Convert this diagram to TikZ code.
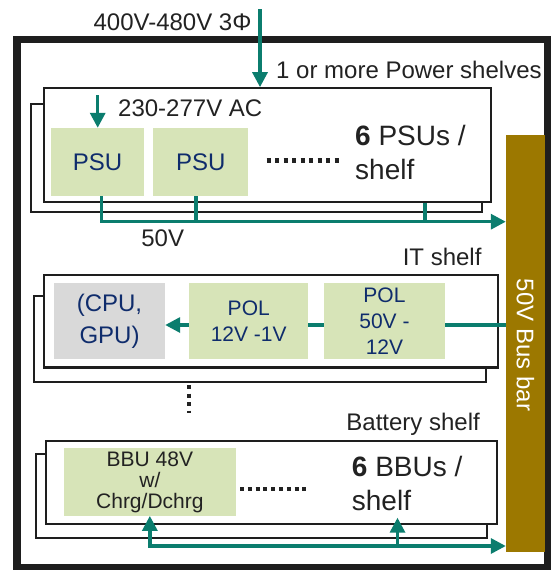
\documentclass[tikz,border=0pt]{standalone}
\usepackage{fontspec}
\setmainfont{Liberation Sans}
\usepackage{xcolor}
\usepackage{tikz}
\usetikzlibrary{positioning,arrows.meta,fit}
\definecolor{cteal}{HTML}{0B7D6E}
\definecolor{cgreen}{HTML}{D7E4B8}
\definecolor{cnavy}{HTML}{0F2C6C}
\definecolor{cgrey}{HTML}{D9D9D9}
\definecolor{cbus}{HTML}{9C7800}
\definecolor{cframe}{HTML}{1E1E1E}
\definecolor{ctext}{HTML}{222222}
\tikzset{
  shelfbox/.style={draw=cframe, fill=white, line width=2.3pt, inner sep=0pt},
  unitbox/.style={fill=cgreen, text=cnavy, align=center, inner sep=0pt,
    font=\fontsize{24}{31.6}\selectfont},
  polbox/.style={unitbox, font=\fontsize{21}{25.8}\selectfont},
  chipbox/.style={unitbox, fill=cgrey},
  bbubox/.style={unitbox, text=ctext, font=\fontsize{21}{21}\selectfont},
  lbl/.style={text=ctext, inner sep=0pt, font=\fontsize{24}{29}\selectfont},
  biglbl/.style={lbl, align=left, font=\fontsize{28}{34}\selectfont},
  busbar/.style={fill=cbus, inner sep=0pt, minimum width=39pt, minimum height=417pt},
  feedline/.style={line width=3.3pt, color=cteal},
  feedarrow/.style={feedline, -{Triangle[length=15pt, width=15pt]}},
  dualarrow/.style={feedline, {Triangle[length=15pt, width=15pt]}-{Triangle[length=15pt, width=15pt]}},
  dotrow/.style={line width=4.5pt, dash pattern=on 4pt off 4.5pt, color=ctext}
}

\begin{document}
\begin{tikzpicture}[x=1pt, y=-1pt]
  \useasboundingbox (0,0) rectangle (551,570);

  % rack frame and bus bar
  \draw[line width=7.2pt, draw=cframe] (17,39.5) rectangle (548,567.5);
  \node[busbar] (bus) at (525.5,343.5) {};
  \node[lbl, text=white, rotate=-90] (buslbl) at (525.5,345) {50V Bus bar};

  % power shelf
  \node[shelfbox, fit={(30.7,104) (481.7,212)}] (pwrback) {};
  \node[shelfbox, fit={(44.3,88.3) (491,202)}] (pwr) {};
  \node[unitbox, minimum width=93pt, minimum height=68pt] (psu1) at (97.5,162) {PSU};
  \node[unitbox, minimum width=94.7pt, minimum height=68pt, right=9pt of psu1] (psu2) {PSU};
  \draw[dotrow] (266.7,160.7) -- (343,160.7);
  \node[biglbl, anchor=west] (psucount) at (355,152.9) {\textbf{6} PSUs /\\shelf};
  \node[lbl, anchor=base east] (acsrc) at (251.7,30) {400V-480V 3Φ};
  \node[lbl, anchor=base west] (pwrlbl) at (276,78.3) {1 or more Power shelves};
  \node[lbl, anchor=base west] (aclbl) at (118,116) {230-277V AC};
  \node[lbl, anchor=base] (dclbl) at (162.7,246.7) {50V};

  % IT shelf
  \node[shelfbox, fit={(34,295.7) (486,381.7)}] (itback) {};
  \node[shelfbox, fit={(44.3,275) (498.3,367.5)}] (it) {};
  \node[chipbox, minimum width=111pt, minimum height=75.4pt] (cpu) at (109.5,321) {(CPU,\\GPU)};
  \node[polbox, minimum width=118.7pt, minimum height=75.4pt, right=24pt of cpu] (pol1) {POL\\12V -1V};
  \node[polbox, minimum width=120.7pt, minimum height=75.4pt, right=15.6pt of pol1] (pol2) {POL\\50V -\\12V};
  \node[lbl, anchor=base east] (itlbl) at (481.7,265) {IT shelf};
  \draw[dotrow] (189,385) -- (189,413);

  % battery shelf
  \node[shelfbox, fit={(35.7,454) (487.3,538)}] (batback) {};
  \node[shelfbox, fit={(45.7,441) (497.3,524.3)}] (bat) {};
  \node[bbubox, minimum width=171.7pt, minimum height=67.4pt] (bbu) at (149.85,482) {BBU 48V\\w/\\Chrg/Dchrg};
  \draw[dotrow, dash pattern=on 4pt off 3.8pt] (240,489) -- (306.7,489);
  \node[biglbl, anchor=west] (bbucount) at (351.7,483.6) {\textbf{6} BBUs /\\shelf};
  \node[lbl, anchor=base east] (batlbl) at (480,430.5) {Battery shelf};

  % AC feeds
  \coordinate (acin) at (260,9.3);
  \coordinate (acpsu) at (97.7,95);
  \draw[feedarrow] (acin) -- (acin |- pwr.north);
  \draw[feedarrow] (acpsu) -- (acpsu |- psu1.north);

  % 50V from the PSUs
  \coordinate (dc1) at (101.7,221.7);
  \coordinate (dc2) at (196,221.7);
  \coordinate (dc3) at (425,221.7);
  \draw[feedarrow] (dc1 |- psu1.south) -- (dc1) -- (dc1 -| bus.west);
  \draw[feedline] (dc2 |- psu2.south) -- (dc2);
  \draw[feedline] (dc3 |- pwr.south) -- (dc3);

  % bus bar to the IT shelf
  \coordinate (itrow) at (0,325);
  \draw[feedline] (itrow -| bus.west) -- (itrow -| pol2.east);
  \draw[feedline] (itrow -| pol2.west) -- (itrow -| pol1.east);
  \draw[feedarrow] (itrow -| pol1.west) -- (itrow -| cpu.east);

  % battery links
  \coordinate (batrow) at (0,546);
  \coordinate (bbutap) at (397.5,546);
  \coordinate (bbutip) at (397.5,517.7);
  \draw[dualarrow] (bbu.south) |- (batrow -| bus.west);
  \draw[feedarrow] (bbutap) -- (bbutip);
\end{tikzpicture}
\end{document}
